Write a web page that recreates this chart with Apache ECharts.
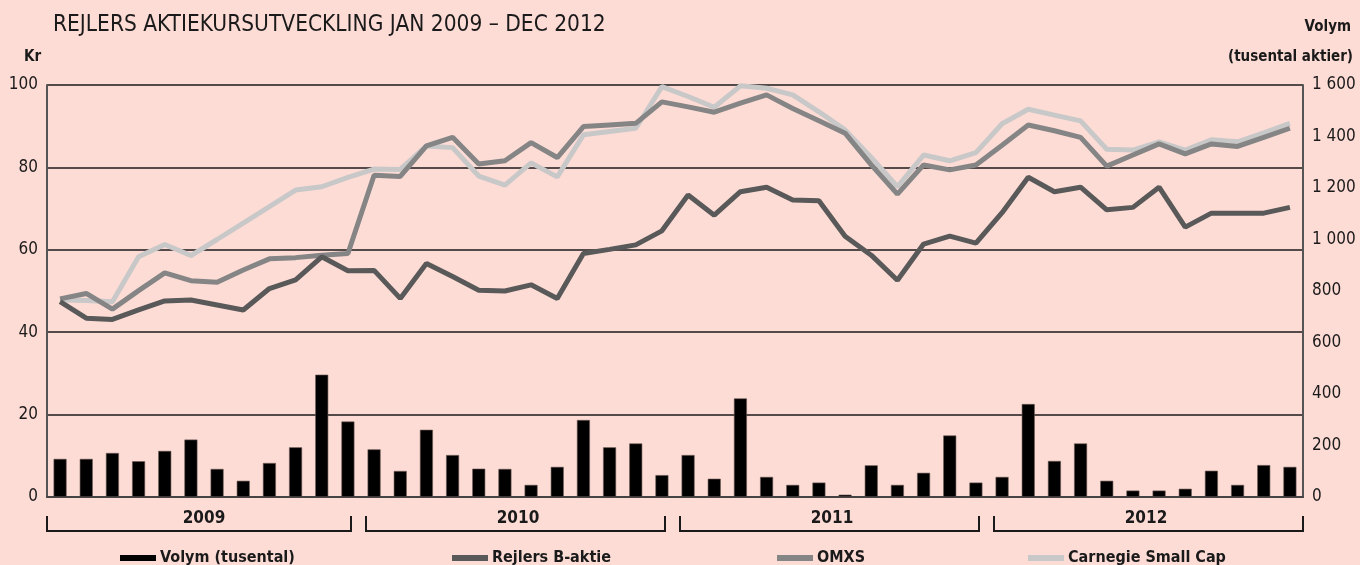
<!DOCTYPE html>
<html lang="sv">
<head>
<meta charset="UTF-8">
<title>Rejlers aktiekursutveckling</title>
<script src="https://cdn.jsdelivr.net/npm/echarts@6/dist/echarts.min.js"></script>
<style>
  html, body { margin: 0; padding: 0; background: #fedcd6; }
  #main { width: 1360px; height: 565px; }
</style>
</head>
<body>
<div id="main"></div>
<script>
// data: månadsvis jan 2009 - dec 2012
var years = ['2009', '2010', '2011', '2012'];
var months = [];
years.forEach(function (y) {
  for (var m = 1; m <= 12; m++) months.push(y + '-' + (m < 10 ? '0' + m : m));
});

var volym = [148, 148, 171, 139, 179, 223, 109, 63, 132, 193, 475, 293,
             185, 101, 261, 163, 110, 109, 47, 117, 299, 193, 208, 85,
             163, 71, 383, 78, 47, 56, 9, 123, 47, 94, 239, 56,
             78, 361, 140, 208, 63, 25, 25, 32, 102, 47, 124, 117];

var rejlers = [47.4, 43.4, 43.1, 45.4, 47.6, 47.8, 46.6, 45.4, 50.6, 52.7, 58.3, 54.9,
               55.0, 48.2, 56.7, 53.5, 50.2, 50.0, 51.5, 48.2, 59.1, 60.1, 61.2, 64.6,
               73.3, 68.4, 74.1, 75.2, 72.1, 71.9, 63.3, 58.7, 52.6, 61.4, 63.3, 61.6,
               69.0, 77.6, 74.1, 75.2, 69.7, 70.3, 75.2, 65.5, 68.9, 68.9, 68.9, 70.3];

var omxs = [48.1, 49.4, 45.6, 50.1, 54.4, 52.5, 52.1, 55.1, 57.8, 58.1, 58.7, 59.1,
            78.1, 77.8, 85.2, 87.3, 80.8, 81.6, 86.0, 82.4, 89.9, 90.3, 90.7, 95.9,
            94.7, 93.4, 95.6, 97.6, 94.3, 91.3, 88.3, 80.6, 73.5, 80.6, 79.4, 80.6,
            85.4, 90.3, 88.9, 87.3, 80.3, 83.0, 85.7, 83.3, 85.7, 85.1, 87.3, 89.5];

var carnegie = [47.8, 47.7, 47.4, 58.3, 61.3, 58.6, 62.5, 66.5, 70.5, 74.5, 75.3, 77.6,
                79.6, 79.5, 85.2, 84.8, 77.9, 75.7, 81.1, 77.7, 87.9, 88.7, 89.5, 99.6,
                97.2, 94.6, 99.8, 99.2, 97.6, 93.5, 89.1, 82.4, 75.3, 83.0, 81.6, 83.6,
                90.6, 94.1, 92.7, 91.3, 84.4, 84.2, 86.2, 84.2, 86.7, 86.2, 88.4, 90.7];

var kronTicks = [0, 20, 40, 60, 80, 100];
var volymMax = 1600;

var FONT = '"DejaVu Sans Condensed", "Liberation Sans Narrow", "DejaVu Sans", sans-serif';
var TXT = '#1a1a1a';

var chart = echarts.init(document.getElementById('main'));

function legendAt(left, name) {
  return {
    left: left, top: 545, data: [name],
    icon: 'rect', itemWidth: 36, itemHeight: 6, itemGap: 0,
    itemStyle: { borderWidth: 0 },
    lineStyle: { width: 6, cap: 'butt' },
    textStyle: { fontFamily: FONT, fontSize: 16, fontWeight: 'bold', color: TXT, padding: [0, 0, 0, -1] }
  };
}

var option = {
  backgroundColor: '#fedcd6',
  animation: false,
  textStyle: { fontFamily: FONT },
  title: [
    { text: 'REJLERS AKTIEKURSUTVECKLING JAN 2009 – DEC 2012', left: 48, top: 9,
      textStyle: { fontFamily: FONT, fontSize: 22.5, fontWeight: 'normal', color: TXT } },
    { text: 'Kr', left: 19, top: 45,
      textStyle: { fontFamily: FONT, fontSize: 15, fontWeight: 'bold', color: TXT } },
    { text: 'Volym', right: 4, top: 15,
      textStyle: { fontFamily: FONT, fontSize: 15, fontWeight: 'bold', color: TXT } },
    { text: '(tusental aktier)', right: 2, top: 45,
      textStyle: { fontFamily: FONT, fontSize: 15, fontWeight: 'bold', color: TXT } }
  ],
  legend: [
    legendAt(115, 'Volym (tusental)'),
    legendAt(447, 'Rejlers B-aktie'),
    legendAt(772, 'OMXS'),
    legendAt(1023, 'Carnegie Small Cap')
  ],
  grid: { left: 47, right: 57, top: 85, bottom: 68 },
  xAxis: [
    {
      type: 'category', data: months, boundaryGap: true,
      axisLine: { show: true, lineStyle: { color: '#444', width: 2 } },
      axisTick: { show: false }, axisLabel: { show: false }
    },
    {
      type: 'category', data: years, position: 'bottom', offset: 5,
      axisLine: { show: false }, axisTick: { show: false },
      axisLabel: { fontFamily: FONT, fontSize: 17, fontWeight: 'bold', color: TXT, margin: 8 }
    }
  ],
  yAxis: [
    {
      type: 'value', min: 0, max: 100, interval: 20,
      axisLine: { show: true, lineStyle: { color: '#555', width: 2 } },
      axisTick: { show: false },
      axisLabel: { fontFamily: FONT, fontSize: 17, color: TXT, margin: 9,
        formatter: function (v) { return kronTicks.indexOf(v) >= 0 ? String(v) : ''; } },
      splitLine: { show: true, lineStyle: { color: '#1a1a1a', width: 1.5 } }
    },
    {
      type: 'value', min: 0, max: volymMax, interval: 200, position: 'right',
      axisLine: { show: true, lineStyle: { color: '#555', width: 2 } },
      axisTick: { show: false },
      axisLabel: { fontFamily: FONT, fontSize: 17, color: TXT, margin: 9,
        formatter: function (v) { return v >= 1000 ? Math.floor(v / 1000) + ' ' + String(v % 1000).padStart(3, '0') : String(v); } },
      splitLine: { show: false }
    }
  ],
  series: [
    { name: 'Volym (tusental)', type: 'bar', yAxisIndex: 1, data: volym, barWidth: 13,
      itemStyle: { color: '#000', borderColor: '#6b5a58', borderWidth: 0.6 } },
    { name: 'Carnegie Small Cap', type: 'line', data: carnegie, showSymbol: false,
      lineStyle: { color: '#c8c8c8', width: 5 }, itemStyle: { color: '#c8c8c8' } },
    { name: 'OMXS', type: 'line', data: omxs, showSymbol: false,
      lineStyle: { color: '#858585', width: 5 }, itemStyle: { color: '#858585' } },
    { name: 'Rejlers B-aktie', type: 'line', data: rejlers, showSymbol: false,
      lineStyle: { color: '#595959', width: 5 }, itemStyle: { color: '#595959' } }
  ]
};

chart.setOption(option);

// årsklamrar under x-axeln
var p0 = chart.convertToPixel({ xAxisIndex: 0 }, months[0]);
var p1 = chart.convertToPixel({ xAxisIndex: 0 }, months[1]);
var band = p1 - p0;
var yBase = chart.convertToPixel({ yAxisIndex: 0 }, 0);
var brackets = years.map(function (y, k) {
  var x0 = chart.convertToPixel({ xAxisIndex: 0 }, months[k * 12]) - band / 2 + (k === 0 ? 0 : 5);
  var x1 = chart.convertToPixel({ xAxisIndex: 0 }, months[k * 12 + 11]) + band / 2 - (k === years.length - 1 ? 0 : 10);
  var yb = yBase + 34;
  return {
    type: 'polyline',
    shape: { points: [[x0, yb - 15], [x0, yb], [x1, yb], [x1, yb - 15]] },
    style: { stroke: '#1a1a1a', lineWidth: 2, fill: null }
  };
});
chart.setOption({ graphic: brackets });
</script>
</body>
</html>
